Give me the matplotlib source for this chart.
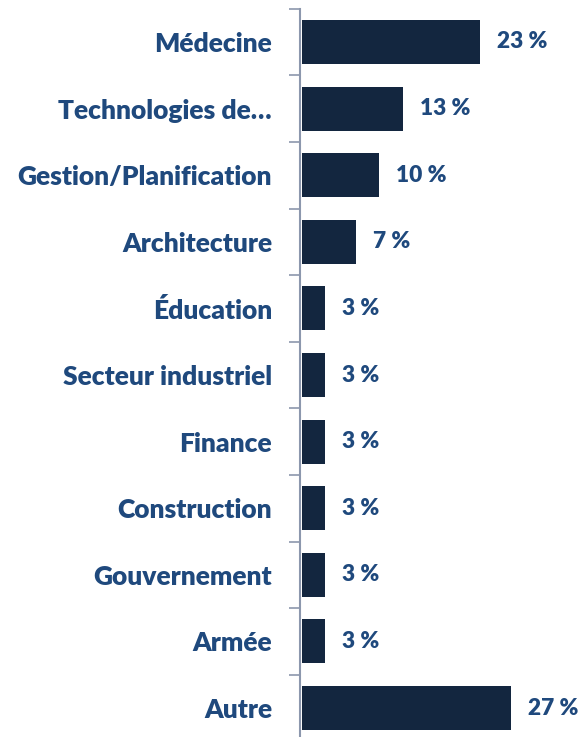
import numpy as np
import matplotlib.pyplot as plt

categories = ['Médecine', 'Technologies de…', 'Gestion/Planification', 'Architecture',
              'Éducation', 'Secteur industriel', 'Finance', 'Construction',
              'Gouvernement', 'Armée', 'Autre']
values = [23, 13, 10, 7, 3, 3, 3, 3, 3, 3, 27]

bar_color = '#13263F'
text_color = '#1F497D'
axis_color = '#8C97AD'

plt.rcParams['font.family'] = ['Lato', 'DejaVu Sans']

fig = plt.figure(figsize=(5.81, 7.37), dpi=100)
ax = fig.add_axes([0.516, -0.0059, 0.484, 0.9941])

y = np.arange(len(categories))
ax.barh(y, values, height=0.66, color=bar_color)
ax.set_ylim(len(categories) - 0.5, -0.5)
ax.set_xlim(-0.26, 36.04)

for yi, v in zip(y, values):
    ax.text(v + 2.2, yi, '{0:d} %'.format(v), va='center', ha='left',
            fontsize=16.3, fontweight='heavy', color=text_color)

ax.set_yticks(y)
ax.set_yticklabels(categories, fontsize=19, fontweight='heavy', color=text_color)
ax.tick_params(axis='y', which='major', length=0, pad=20)
ax.set_yticks(np.arange(-0.5, len(categories), 1.0), minor=True)
ax.tick_params(axis='y', which='minor', length=8, width=1.2, color=axis_color)
ax.set_xticks([])

for s in ['top', 'right', 'bottom']:
    ax.spines[s].set_visible(False)
ax.spines['left'].set_color(axis_color)
ax.spines['left'].set_linewidth(1.5)

fig.savefig('out.png', dpi=100)
